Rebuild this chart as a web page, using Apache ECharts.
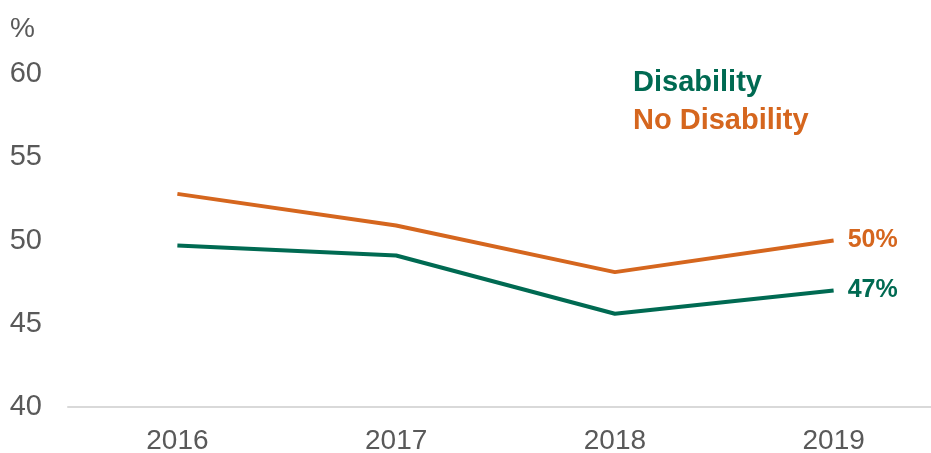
<!DOCTYPE html>
<html>
<head>
<meta charset="utf-8">
<script src="https://cdn.jsdelivr.net/npm/echarts@6/dist/echarts.min.js"></script>
<style>
  html, body { margin: 0; padding: 0; background: #fff; }
  #chart { width: 931px; height: 453px; }
</style>
</head>
<body>
<div id="chart"></div>
<script>
// Share of people (%) by year, with and without disability
const years = ['2016', '2017', '2018', '2019'];
const disability = [49.7, 49.1, 45.6, 47];
const noDisability = [52.8, 50.9, 48.1, 50];
const yTicks = { min: 40, max: 60, step: 5 };

const GREEN = '#006A52';
const ORANGE = '#D5661E';
const GREY = '#595959';
const FONT = '"Liberation Sans", Arial, sans-serif';

const chart = echarts.init(document.getElementById('chart'), null, { renderer: 'canvas' });

function lineSeries(name, data, color) {
  return {
    name: name,
    type: 'line',
    data: data,
    symbol: 'none',
    lineStyle: { color: color, width: 4 },
    itemStyle: { color: color },
    endLabel: {
      show: true,
      formatter: p => Math.round(p.value) + '%',
      color: color,
      fontFamily: FONT,
      fontWeight: 'bold',
      fontSize: 25,
      distance: 14
    },
    emphasis: { disabled: true }
  };
}

chart.setOption({
  animation: false,
  textStyle: { fontFamily: FONT },
  // plot area runs past the right edge so the last category sits near it
  grid: { left: 68, width: 875, top: 74, bottom: 46, containLabel: false, outerBoundsMode: 'none' },
  legend: {
    orient: 'vertical',
    left: 623,
    top: 63,
    icon: 'none',
    itemWidth: 0,
    itemHeight: 0,
    itemGap: 9,
    selectedMode: false,
    textStyle: { fontFamily: FONT, fontWeight: 'bold', fontSize: 29, padding: 0 },
    data: [
      { name: 'Disability', textStyle: { color: GREEN } },
      { name: 'No Disability', textStyle: { color: ORANGE } }
    ]
  },
  graphic: [{
    type: 'text',
    left: 10,
    top: 15,
    style: { text: '%', fill: GREY, font: '28px ' + FONT }
  }],
  xAxis: {
    type: 'category',
    data: years,
    boundaryGap: true,
    axisLine: { show: true, lineStyle: { color: '#D9D9D9', width: 2 } },
    axisTick: { show: false },
    axisLabel: { color: GREY, fontSize: 28, margin: 20, fontFamily: FONT }
  },
  yAxis: {
    type: 'value',
    min: yTicks.min,
    max: yTicks.max,
    interval: yTicks.step,
    axisLine: { show: false },
    axisTick: { show: false },
    splitLine: { show: false },
    axisLabel: { color: GREY, fontSize: 29, margin: 26, fontFamily: FONT }
  },
  series: [
    lineSeries('Disability', disability, GREEN),
    lineSeries('No Disability', noDisability, ORANGE)
  ]
});
</script>
</body>
</html>
